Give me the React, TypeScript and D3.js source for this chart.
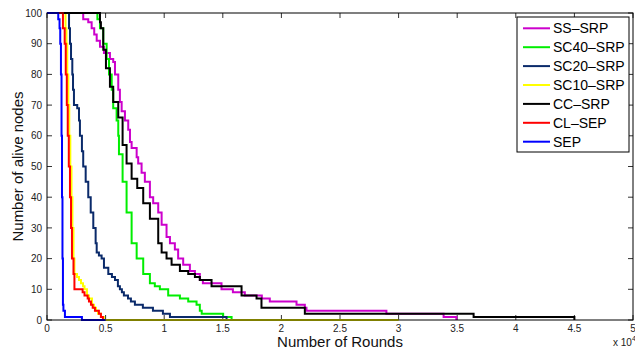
import React from "react";
import * as d3 from "d3";

type Pt = [number, number];

const ssSrp: Pt[] = [[0,100],[2960,100],[3090,98],[3520,97],[3810,95],[4030,93],[4240,91],[4520,89],[4860,87],[5370,85],[5650,84],[5800,80],[6080,75],[6220,71],[6370,68],[6650,65],[6930,62],[7080,58],[7220,56],[7650,53],[7780,51],[8070,48],[8350,45],[8780,40],[9060,38],[9490,35],[9780,31],[10200,27],[10490,25],[10910,23],[11190,20],[11620,18],[12190,16],[12620,15],[13040,13],[13300,12],[14890,10],[15860,9],[16880,8],[18330,7],[19010,6],[21290,5],[22000,4],[22140,3],[28960,2],[33840,1],[34930,0]];
const sc40Srp: Pt[] = [[0,100],[4240,100],[4300,98],[4520,95],[4800,90],[5090,85],[5290,80],[5520,75],[5650,69],[5940,65],[6080,60],[6140,54],[6450,45],[6790,35],[7220,25],[7650,20],[8210,15],[8780,12],[9200,11],[9630,10],[10340,8],[11340,7],[12050,6],[12760,5],[13040,3],[13200,2],[15030,1],[15750,0]];
const sc20Srp: Pt[] = [[0,100],[1790,100],[1880,95],[1960,90],[2050,85],[2160,80],[2220,75],[2300,70],[2580,69],[2730,65],[2810,60],[2980,55],[3090,50],[3300,45],[3520,40],[3730,35],[3950,30],[4150,25],[4240,22],[4430,21],[4660,20],[4860,17],[5230,15],[5540,14],[5800,13],[6050,11],[6220,10],[6390,9],[6560,8],[6910,7],[7160,6],[7500,5],[8180,4],[9040,3],[9890,2],[10490,1],[15320,0]];
const sc10Srp: Pt[] = [[0,100],[1450,100],[1580,95],[1660,90],[1730,80],[1820,70],[1900,60],[1990,50],[2090,40],[2170,30],[2260,20],[2340,15],[2560,14],[2730,13],[2900,12],[3070,11],[3200,10],[3410,8],[3580,7],[3840,5],[4010,4],[4180,3],[4350,2],[4600,1],[4860,0],[30000,0]];
const ccSrp: Pt[] = [[0,100],[4430,100],[4520,97],[4600,95],[4800,88],[5030,82],[5370,76],[5650,71],[6080,66],[6450,57],[6790,51],[7220,46],[7700,43],[8210,38],[8780,33],[9490,25],[9780,22],[10200,20],[10630,18],[11340,16],[12050,15],[12620,14],[13040,13],[14040,11],[16600,8],[17880,7],[18300,4],[22000,2],[36400,1],[45000,0]];
const clSep: Pt[] = [[0,100],[1190,100],[1360,95],[1510,90],[1600,80],[1690,70],[1770,60],[1860,50],[1960,40],[2050,30],[2130,20],[2260,15],[2340,10],[3040,9],[3200,8],[3470,7],[3580,6],[3750,5],[3900,4],[4090,3],[4430,2],[4600,1],[4770,0]];
const sep: Pt[] = [[0,100],[830,100],[960,98],[1070,95],[1130,90],[1190,80],[1240,60],[1280,40],[1320,20],[1360,5],[1400,3],[1530,1],[2980,0],[5000,0]];

const seriesNames = ["SS\u2013SRP", "SC40\u2013SRP", "SC20\u2013SRP", "SC10\u2013SRP", "CC\u2013SRP", "CL\u2013SEP", "SEP"];
const seriesData = [ssSrp, sc40Srp, sc20Srp, sc10Srp, ccSrp, clSep, sep];
const seriesColors = ["#cc00cc", "#00ee00", "#0a2a6a", "#ffff00", "#000000", "#ff0000", "#0000ff"];

const xTicks = [0, 5000, 10000, 15000, 20000, 25000, 30000, 35000, 40000, 45000, 50000];
const yTicks = [0, 10, 20, 30, 40, 50, 60, 70, 80, 90, 100];

export default function App() {
  const W = 635, H = 349;
  const left = 47, right = 633, top = 13, bottom = 320;
  const x = d3.scaleLinear().domain([0, 50000]).range([left, right]);
  const y = d3.scaleLinear().domain([0, 100]).range([bottom, top]);
  const line = d3.line<Pt>().x(d => x(d[0])).y(d => y(d[1])).curve(d3.curveStepAfter);
  const font = "'Liberation Sans', Arial, Helvetica, sans-serif";
  const tickLen = 5;
  const legX = 517, legY = 17, legW = 112, legH = 135;
  return (
    <svg width={W} height={H} style={{ position: "absolute", left: 0, top: 0, background: "#fff" }} fontFamily={font}>
      <rect x={0} y={0} width={W} height={H} fill="#fff" />
      {/* ticks */}
      {xTicks.map((t, i) => (
        <g key={"xt" + i}>
          <line x1={x(t)} x2={x(t)} y1={bottom} y2={bottom - tickLen} stroke="#333" strokeWidth={1} />
          <line x1={x(t)} x2={x(t)} y1={top} y2={top + tickLen} stroke="#333" strokeWidth={1} />
          <text x={x(t)} y={332} fontSize={10} textAnchor="middle" fill="#222">{String(t / 10000)}</text>
        </g>
      ))}
      {yTicks.map((t, i) => (
        <g key={"yt" + i}>
          <line x1={left} x2={left + tickLen} y1={y(t)} y2={y(t)} stroke="#333" strokeWidth={1} />
          <line x1={right} x2={right - tickLen} y1={y(t)} y2={y(t)} stroke="#333" strokeWidth={1} />
          <text x={42} y={y(t) + 3.6} fontSize={10} textAnchor="end" fill="#222">{String(t)}</text>
        </g>
      ))}
      {/* series */}
      {seriesData.map((d, i) => (
        <path key={"s" + i} d={line(d) || ""} fill="none" stroke={seriesColors[i]} strokeWidth={2} />
      ))}
      {/* frame */}
      <rect x={left} y={top} width={right - left} height={bottom - top} fill="none" stroke="#000" strokeWidth={1} />
      {/* labels */}
      <text x={340} y={347} fontSize={15} textAnchor="middle" fill="#111">Number of Rounds</text>
      <text transform={`translate(23,${(top + bottom) / 2}) rotate(-90)`} fontSize={15} textAnchor="middle" fill="#111">Number of alive nodes</text>
      <text x={613} y={346} fontSize={10} fill="#222">x 10<tspan dy={-5} fontSize={7}>4</tspan></text>
      {/* legend */}
      <rect x={legX} y={legY} width={legW} height={legH} fill="#fff" stroke="#000" strokeWidth={1} />
      {seriesNames.map((n, i) => {
        const cy = 28.3 + i * 18.9;
        return (
          <g key={"l" + i}>
            <line x1={523} x2={550} y1={cy} y2={cy} stroke={seriesColors[i]} strokeWidth={2} />
            <text x={553} y={cy + 5} fontSize={14} fill="#000">{n}</text>
          </g>
        );
      })}
    </svg>
  );
}
